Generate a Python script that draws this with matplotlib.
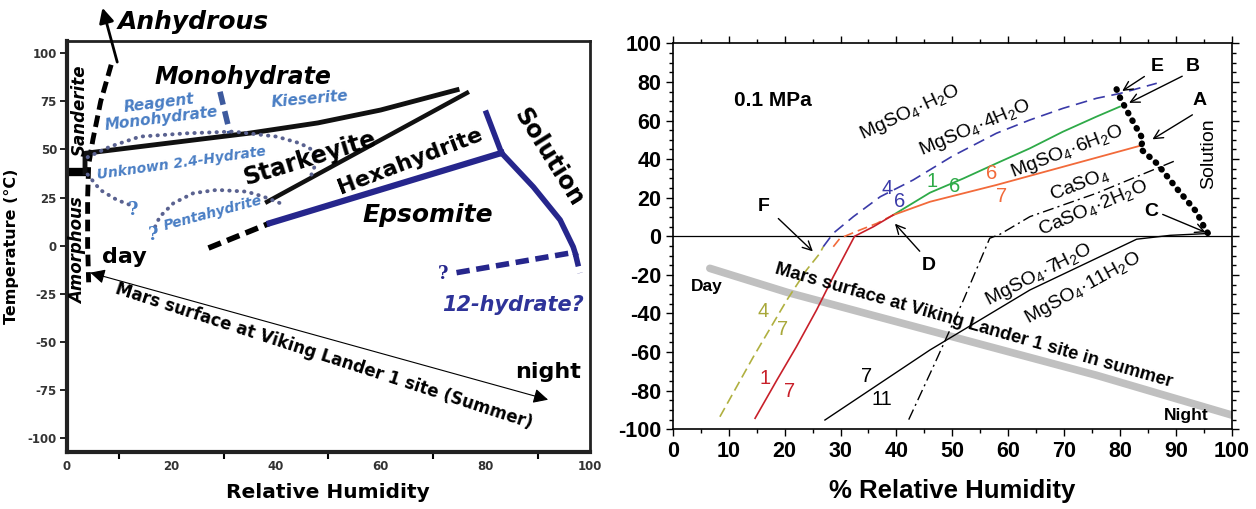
import numpy as np
import matplotlib.pyplot as plt
from matplotlib.ticker import MultipleLocator, FixedLocator

plt.rcParams['font.family'] = ['Liberation Sans', 'DejaVu Sans']
plt.rcParams['mathtext.fontset'] = 'custom'
plt.rcParams['mathtext.rm'] = 'Liberation Sans'
plt.rcParams['mathtext.it'] = 'Liberation Sans:italic'
plt.rcParams['mathtext.bf'] = 'Liberation Sans:bold'
plt.rcParams['mathtext.default'] = 'regular'
plt.rcParams['axes.unicode_minus'] = False

# ---- left panel: MgSO4 phase boundaries (relative humidity %, temperature C)
sand_rh = [8.5, 6.5, 5.0, 4.2, 4.0, 4.0, 4.2]
sand_t = [94, 75, 55, 42, 25, 0, -19]
stub_rh = [0, 3.8]
stub_t = [38.5, 38.5]
mono_rh = [3.5, 3.5, 20, 35, 48, 60, 74.6]
mono_t = [38, 48, 53.5, 58.5, 63.8, 70.5, 81]
stark_rh = [38.3, 76.5]
stark_t = [22.8, 79.4]
epsom_rh = [38.8, 83.1]
epsom_t = [11.7, 48.2]
epsom_low_rh = [27.1, 38.8]
epsom_low_t = [-1.2, 11.7]
hexa_sol_rh = [80.2, 83.1]
hexa_sol_t = [68.9, 48.2]
sol_rh = [83.1, 89.2, 94.3, 96.8, 97.2]
sol_t = [48.2, 30.5, 13.4, -0.6, -4]
sol_ext_rh = [97.2, 98.1]
sol_ext_t = [-4, -14.2]
dodeca_rh = [74.5, 96.2]
dodeca_t = [-14, -3.8]
kies_rh = [29.3, 31.2]
kies_t = [80, 58.5]
dome_rh = [4.0, 8.3, 14, 22.9, 31.8, 40.1, 44.6, 47.5, 47.5, 46.5]
dome_t = [46, 51.5, 56.7, 58.4, 59.3, 56.7, 53.2, 49, 42, 35]
low_rh = [4.0, 6.4, 9.6, 12.1]
low_t = [37, 29, 23.8, 21.2]
penta_rh = [16.9, 17.8, 20.4, 24.2, 28.7, 34.4, 37.6, 40.8]
penta_t = [9.9, 15.1, 22.1, 27.3, 29, 28.1, 25.5, 22.1]
mars_l_start = (4.5, -14)
mars_l_end = (92, -80)

# ---- right panel: 0.1 MPa phase diagram
blue_rh = [26.9, 28.7, 32.3, 37.1, 43, 50, 57.9, 63.9, 69.8, 75.8, 80, 86.6]
blue_t = [-5.4, 1.6, 10.2, 20.5, 29.2, 41.5, 53.4, 60.3, 66.3, 71.5, 74, 79.3]
green_rh = [39.4, 46, 52, 57.9, 63.9, 69.8, 75.8, 80]
green_t = [11, 22.6, 30, 37.8, 45.6, 54.2, 62, 67.2]
orange_dash_rh = [28.7, 29.9, 33.5, 36.5, 39.4]
orange_dash_t = [-5.4, -1, 3.3, 6.7, 11]
orange_rh = [39.4, 46, 57.9, 69.8, 84.1]
orange_t = [11, 17.9, 26.6, 36, 47.3]
red_rh = [14.7, 18.6, 22.1, 25.7, 28.7, 32.5, 35.9, 39.4]
red_t = [-94.3, -74.5, -57.2, -38.2, -20.9, 0, 5, 11]
olive_rh = [8.4, 14.4, 20.4, 23.9, 26.3, 26.9]
olive_t = [-93.5, -62.4, -33, -17.5, -8.8, -5.4]
hepta_rh = [27.2, 46, 63.9, 83, 89, 96.1]
hepta_t = [-95.2, -58.9, -27.8, -1.5, 0.5, 1.5]
gyps_rh = [42.2, 47, 52, 56.7, 58.5, 63.9, 75.8, 90.2]
gyps_t = [-95, -65, -33, -1, 1, 10.2, 22.3, 39.5]
sol_dots_rh = [79.4, 80, 81.2, 83, 84.2, 83.6, 86.6, 90.4, 93.7, 95.2, 96.1]
sol_dots_t = [76.2, 72, 65.4, 56, 49.9, 45.6, 37.8, 24, 12.7, 4.1, 0]
mars_rh = [6.6, 20.4, 47.8, 75.8, 100]
mars_t = [-16.6, -29, -50.3, -72, -92.6]

navy = '#26268c'
lblue = '#4a7ec4'
dotc = '#5a6290'
LF = ['DejaVu Sans']

fig = plt.figure(figsize=(12.56, 5.09), dpi=100)

# ================= left panel =================
ax = fig.add_axes([0.0531, 0.1126, 0.4166, 0.8074])
ax.set_xlim(0, 100)
ax.set_ylim(-107, 106.5)

dash = dict(linestyle=(0, (2.4, 1.2)), dash_capstyle='butt')
dots = dict(linestyle=(0, (0.1, 1.8)), dash_capstyle='round')

ax.plot(sand_rh, sand_t, color='k', lw=3.5, **dash)
ax.plot(stub_rh, stub_t, color='k', lw=6, solid_capstyle='butt')
ax.plot(mono_rh, mono_t, color='#111111', lw=3.5)
ax.plot(stark_rh, stark_t, color='#111111', lw=3.2)
ax.plot(epsom_low_rh, epsom_low_t, color='k', lw=4, **dash)
ax.plot(epsom_rh, epsom_t, color=navy, lw=4.5)
ax.plot(hexa_sol_rh, hexa_sol_t, color=navy, lw=4)
ax.plot(sol_rh, sol_t, color=navy, lw=4)
ax.plot(sol_ext_rh, sol_ext_t, color=navy, lw=4, **dash)
ax.plot(dodeca_rh, dodeca_t, color=navy, lw=4, **dash)
ax.plot(kies_rh, kies_t, color='#3d5a9e', lw=4, **dash)
ax.plot(dome_rh, dome_t, color=dotc, lw=2.8, **dots)
ax.plot(low_rh, low_t, color=dotc, lw=2.8, **dots)
ax.plot(penta_rh, penta_t, color=dotc, lw=2.8, **dots)

ax.annotate('', xy=(6.7, 125), xytext=(9.8, 94), annotation_clip=False,
            arrowprops=dict(arrowstyle='-|>', lw=2, color='k', mutation_scale=22))
ax.text(9.8, 116, 'Anhydrous', fontsize=18, fontweight='bold', style='italic',
        family=LF, ha='left', va='center', clip_on=False)
ax.annotate('', xy=mars_l_start, xytext=mars_l_end,
            arrowprops=dict(arrowstyle='<|-|>', lw=0.8, color='k', mutation_scale=22,
                            shrinkA=0, shrinkB=0))

bi = dict(fontweight='bold', style='italic', family=LF)
bd = dict(fontweight='bold', family=LF)
ax.text(33.7, 87.5, 'Monohydrate', fontsize=17, ha='center', va='center', **bi)
ax.text(46.5, 45.5, 'Starkeyite', fontsize=17, rotation=17,
        ha='center', va='center', **bd)
ax.text(65.6, 43.8, 'Hexahydrite', fontsize=16, rotation=21,
        ha='center', va='center', **bd)
ax.text(69.1, 16, 'Epsomite', fontsize=18, ha='center', va='center', **bi)
ax.text(92, 46, 'Solution', fontsize=17, rotation=-58,
        ha='center', va='center', **bd)
ax.text(85.3, -30.8, '12-hydrate?', fontsize=15, color='#2e3399', ha='center',
        va='center', **bi)
ax.text(11, -5.8, 'day', fontsize=16, ha='center', va='center', **bd)
ax.text(92, -65.4, 'night', fontsize=16, ha='center', va='center', **bd)
ax.text(49.2, -57.5, 'Mars surface at Viking Lander 1 site (Summer)', fontsize=12,
        rotation=-18, ha='center', va='center', **bd)
ax.text(2.5, 70.5, 'Sanderite', fontsize=12, rotation=90, ha='center', va='center', **bi)
ax.text(2.2, -2.7, 'Amorphous', fontsize=12, rotation=90, ha='center', va='center', **bi)

ax.text(17.9, 70, 'Reagent\nMonohydrate', fontsize=11, color=lblue, rotation=7,
        ha='center', va='center', linespacing=1.0, **bi)
ax.text(46.5, 76, 'Kieserite', fontsize=11, color=lblue, rotation=5,
        ha='center', va='center', **bi)
ax.text(22, 43, 'Unknown 2.4-Hydrate', fontsize=10, color=lblue, rotation=8,
        ha='center', va='center', **bi)
ax.text(28, 17, 'Pentahydrite', fontsize=10, color=lblue, rotation=15,
        ha='center', va='center', **bi)
for qx, qy, qc in [(12.7, 18.6, lblue), (16.5, 5.6, lblue), (72, -14.5, navy)]:
    ax.text(qx, qy, '?', fontsize=13, fontweight='bold', color=qc,
            family='DejaVu Serif', ha='center', va='center')

for s in ax.spines.values():
    s.set_linewidth(2)
    s.set_color('#222222')
ax.spines['left'].set_linewidth(3)
ax.spines['bottom'].set_linewidth(3)
ax.xaxis.set_major_locator(FixedLocator([0, 20, 40, 60, 80, 100]))
ax.xaxis.set_minor_locator(FixedLocator([10, 30, 50, 70, 90]))
ax.tick_params(axis='x', which='major', length=0, pad=6, labelsize=8.5)
ax.tick_params(axis='x', which='minor', length=5, width=1.5, direction='out')
ax.yaxis.set_major_locator(MultipleLocator(25))
ax.tick_params(axis='y', which='major', length=5, width=1.2, labelsize=8.5, pad=2)
for lab in ax.get_xticklabels() + ax.get_yticklabels():
    lab.set_fontweight('bold')
    lab.set_family(LF)
    lab.set_color('#333333')
ax.set_xlabel('Relative Humidity', fontsize=14.5, fontweight='bold', family=LF, labelpad=7)
ax.set_ylabel('Temperature (\u00b0C)', fontsize=11.5, fontweight='bold', family=LF, labelpad=6)

# ================= right panel =================
bx = fig.add_axes([0.5358, 0.1566, 0.4448, 0.7583])
bx.set_xlim(0, 100)
bx.set_ylim(-100, 100)

bx.plot(mars_rh, mars_t, color='#c0c0c0', lw=5.5, solid_capstyle='round', zorder=1)
bx.axhline(0, color='k', lw=0.9, zorder=2)
bx.plot(blue_rh, blue_t, color='#3a3aa8', lw=1.2, linestyle=(0, (7, 4)), zorder=3)
bx.plot(green_rh, green_t, color='#2eaa48', lw=1.3, zorder=3)
bx.plot(orange_dash_rh, orange_dash_t, color='#f26a3a', lw=1.2, linestyle=(0, (6, 3)), zorder=3)
bx.plot(orange_rh, orange_t, color='#f26a3a', lw=1.3, zorder=3)
bx.plot(red_rh, red_t, color='#c8202a', lw=1.2, zorder=3)
bx.plot(olive_rh, olive_t, color='#b0b040', lw=1.2, linestyle=(0, (6, 3)), zorder=3)
bx.plot(hepta_rh, hepta_t, color='k', lw=1.0, zorder=3)
bx.plot(gyps_rh, gyps_t, color='k', lw=1.0, linestyle=(0, (8, 3, 1.5, 3)), zorder=3)
bx.plot(sol_dots_rh, sol_dots_t, color='k', lw=4.5, linestyle=(0, (0.1, 1.3)),
        dash_capstyle='round', zorder=4)

arr = dict(arrowstyle='->', lw=1.0, color='k', mutation_scale=16)
lab_font = dict(fontsize=14, fontweight='bold', ha='center', va='center')
for txt, tpos, tail, head in [('E', (86.6, 88), (84.8, 83.6), (80, 74.5)),
                              ('B', (93.1, 88), (91.6, 83.6), (81.2, 68.5)),
                              ('A', (94.3, 70.6), (93.4, 63.7), (85.4, 49.5)),
                              ('C', (85.6, 12.7), (87.2, 11.9), (95.8, 1.5)),
                              ('F', (16.2, 15.3), (18.5, 10.2), (25.4, -8.8)),
                              ('D', (45.7, -15), (44.5, -8.8), (39.4, 7.6))]:
    bx.text(tpos[0], tpos[1], txt, **lab_font)
    bx.annotate('', xy=head, xytext=tail, arrowprops=arr)

bx.text(17.9, 70.6, '0.1 MPa', fontsize=15, fontweight='bold', ha='center', va='center')
rot_labels = [('MgSO$_4$\u00b7H$_2$O', 42.4, 63.9, 25),
              ('MgSO$_4$\u00b74H$_2$O', 54, 56, 23),
              ('MgSO$_4$\u00b76H$_2$O', 70.5, 43.7, 21),
              ('CaSO$_4$', 72.8, 26.6, 21),
              ('CaSO$_4$\u00b72H$_2$O', 75.2, 14.6, 23),
              ('MgSO$_4$\u00b77H$_2$O', 65.5, -20, 27),
              ('MgSO$_4$\u00b711H$_2$O', 73.4, -26.9, 29)]
for txt, x, y, r in rot_labels:
    bx.text(x, y, txt, fontsize=14, rotation=r, ha='center', va='center')
bx.text(95.8, 43, 'Solution', fontsize=14, rotation=90, ha='center', va='center')
bx.text(53.9, -46.5, 'Mars surface at Viking Lander 1 site in summer', fontsize=13.3,
        fontweight='bold', rotation=-16, ha='center', va='center')
bx.text(6, -26, 'Day', fontsize=12.5, fontweight='bold', ha='center', va='center')
bx.text(91.9, -92.6, 'Night', fontsize=12.5, fontweight='bold', ha='center', va='center')

num_labels = [('4', 38.3, 24.9, '#3a3aa8'), ('6', 40.6, 17.9, '#3a3aa8'),
              ('1', 46.3, 28.3, '#2eaa48'), ('6', 50.5, 25.7, '#2eaa48'),
              ('6', 57, 32.6, '#f26a3a'), ('7', 58.8, 20.5, '#f26a3a'),
              ('4', 16.2, -39.1, '#a8a83a'), ('7', 19.7, -48.5, '#a8a83a'),
              ('1', 16.5, -73.6, '#c8202a'), ('7', 20.9, -80.5, '#c8202a'),
              ('7', 34.7, -72.7, 'k'), ('11', 37.4, -84.8, 'k')]
for txt, x, y, c in num_labels:
    bx.text(x, y, txt, fontsize=14.5, color=c, ha='center', va='center')

bx.xaxis.set_major_locator(MultipleLocator(10))
bx.xaxis.set_minor_locator(MultipleLocator(5))
bx.yaxis.set_major_locator(MultipleLocator(20))
bx.yaxis.set_minor_locator(MultipleLocator(5))
bx.tick_params(which='both', direction='out', top=True, right=True, labelsize=15.5)
bx.tick_params(which='major', length=5, width=1)
bx.tick_params(which='minor', length=3, width=1)
for lab in bx.get_xticklabels() + bx.get_yticklabels():
    lab.set_fontweight('bold')
for s in bx.spines.values():
    s.set_linewidth(1.2)
bx.set_xlabel('% Relative Humidity', fontsize=18.5, fontweight='bold', labelpad=12)

fig.savefig('out.png', dpi=100)
